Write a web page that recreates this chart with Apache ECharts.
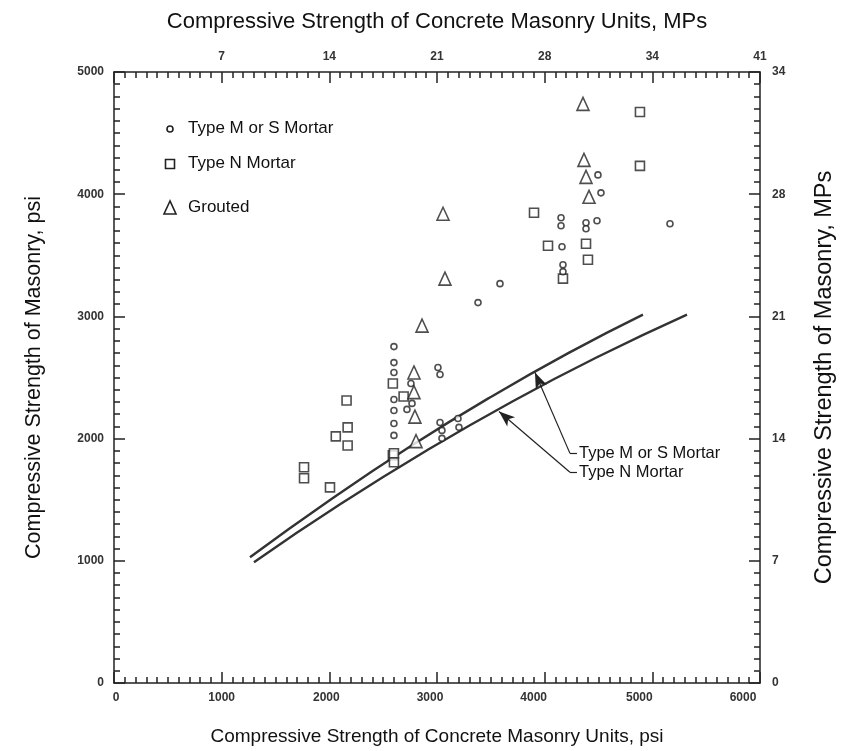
<!DOCTYPE html>
<html><head><meta charset="utf-8">
<script src="https://cdn.jsdelivr.net/npm/echarts@6/dist/echarts.min.js"></script>
<style>html,body{margin:0;padding:0;background:#fff}#c{width:845px;height:751px}</style>
</head><body><div id="c"></div>
<script>
// ---- data (psi) ----
var bottomLabels = ['0','1000','2000','3000','4000','5000','6000'];
var topLabels = ['','7','14','21','28','34','41'];
var leftLabels = ['0','1000','2000','3000','4000','5000'];
var rightLabels = ['0','7','14','21','28','34'];

var typeMS = [
  [2600,2753],[2600,2622],[2600,2541],[2600,2320],[2600,2230],[2600,2124],[2600,2026],
  [2758,2451],[2721,2239],[2768,2288],[3009,2582],[3028,2525],[3028,2132],[3046,2067],
  [3046,2002],[3195,2165],[3204,2092],[3381,3113],[3585,3268],
  [4495,4158],[4523,4011],[4152,3807],[4152,3742],[4384,3766],[4384,3717],[4486,3783],
  [5164,3758],[4161,3570],[4170,3423],[4170,3366]
];
var typeN = [
  [2160,2312],[2170,2092],[2060,2018],[2170,1944],[1765,1765],[1765,1675],[2006,1601],
  [2590,2451],[2690,2345],[2590,1863],[2600,1806],[2600,1880],
  [4885,4673],[4885,4232],[3901,3848],[4031,3578],[4384,3595],[4402,3464],[4170,3309]
];
var grouted = [
  [3056,3840],[3074,3309],[2861,2925],[2786,2541],[2786,2380],[2795,2180],[2805,1980],
  [4356,4739],[4365,4281],[4384,4142],[4412,3979]
];
var curveMS = [[1263,1029],[2000,1494],[2750,1935],[3500,2341],[4250,2714],[4913,3015]];
var curveN = [[1300,989],[2100,1462],[2900,1900],[3700,2304],[4500,2672],[5322,3015]];
var annMS = {tip:[3910,2541], elbow:[4235,1879], end:[4300,1879], text:'Type M or S Mortar'};
var annN = {tip:[3576,2222], elbow:[4235,1724], end:[4300,1724], text:'Type N Mortar'};
// horizontal label nudges (px) of bottom tick labels as printed in the source figure
var bottomShift = [2,0,-3,-7,-11,-13,-17];

var ink = '#222';
var FONT = 'Liberation Sans, Arial, sans-serif';
function tickAxisCommon(){
  return {
    axisLine:{show:true,onZero:false,lineStyle:{color:ink,width:1.5}},
    axisTick:{show:true,inside:true,length:11,lineStyle:{color:ink,width:1.5}},
    minorTick:{show:true,splitNumber:10,length:6,lineStyle:{color:ink,width:1.5}},
    splitLine:{show:false}, minorSplitLine:{show:false}
  };
}
function mk(base,extra){for(var k in extra) base[k]=extra[k]; return base;}

var markerStyle = {color:'#fff',borderColor:ink,borderWidth:1.6};

function annotation(a){
  return [
    [{coord:a.elbow,symbol:'none'},{coord:a.tip,symbol:'arrow',symbolSize:[9,16]}],
    [{coord:a.elbow,symbol:'none'},{coord:a.end,symbol:'none',label:{show:true,position:'end',distance:2,formatter:a.text,color:'#111',fontSize:16.5,fontFamily:FONT}}]
  ];
}

var labelBase = {fontSize:12,fontWeight:'bold',color:'#333',fontFamily:FONT};
var bottomRich = {};
bottomShift.forEach(function(s,i){
  bottomRich['b'+i] = mk(mk({},labelBase),{padding: s<0 ? [0,-2*s,0,0] : [0,0,0,2*s]});
});

var option = {
  animation:false,
  backgroundColor:'#fff',
  grid:{left:114,right:85,top:72,bottom:68,containLabel:false},
  xAxis:[
    mk(tickAxisCommon(),{type:'value',position:'bottom',min:0,max:6000,interval:1000,
      axisLabel:mk(mk({},labelBase),{margin:9,rich:bottomRich,formatter:function(v){var i=Math.round(v/1000);return '{b'+i+'|'+bottomLabels[i]+'}';}}),
      name:'Compressive Strength of Concrete Masonry Units, psi',nameLocation:'middle',nameGap:44,
      nameTextStyle:{fontSize:19,color:'#111',fontFamily:FONT}}),
    mk(tickAxisCommon(),{type:'value',position:'top',min:0,max:6000,interval:1000,
      axisLabel:mk(mk({},labelBase),{margin:9,formatter:function(v){return topLabels[Math.round(v/1000)];}}),
      name:'Compressive Strength of Concrete Masonry Units, MPs',nameLocation:'middle',nameGap:39,
      nameTextStyle:{fontSize:22,color:'#111',fontFamily:FONT}})
  ],
  yAxis:[
    mk(tickAxisCommon(),{type:'value',position:'left',min:0,max:5000,interval:1000,
      axisLabel:mk(mk({},labelBase),{margin:10,formatter:function(v){return leftLabels[Math.round(v/1000)];}}),
      name:'Compressive Strength of Masonry, psi',nameLocation:'middle',nameGap:69,
      nameTextStyle:{fontSize:21.5,color:'#111',fontFamily:FONT}}),
    mk(tickAxisCommon(),{type:'value',position:'right',min:0,max:5000,interval:1000,
      axisLabel:mk(mk({},labelBase),{margin:12,formatter:function(v){return rightLabels[Math.round(v/1000)];}}),
      name:'Compressive Strength of Masonry, MPs',nameLocation:'middle',nameGap:53,
      nameTextStyle:{fontSize:23.5,color:'#111',fontFamily:FONT}})
  ],
  series:[
    {type:'line',name:'Type M or S curve',data:curveMS,smooth:true,showSymbol:false,symbol:'none',
      lineStyle:{color:'#333',width:2.4},z:3,
      markLine:{silent:true,lineStyle:{color:ink,width:1.2,type:'solid'},label:{show:false},data:annotation(annMS)}},
    {type:'line',name:'Type N curve',data:curveN,smooth:true,showSymbol:false,symbol:'none',
      lineStyle:{color:'#333',width:2.4},z:3,
      markLine:{silent:true,lineStyle:{color:ink,width:1.2,type:'solid'},label:{show:false},data:annotation(annN)}},
    {type:'scatter',name:'Type M or S Mortar',data:typeMS,symbol:'circle',symbolSize:6,itemStyle:markerStyle,z:5},
    {type:'scatter',name:'Type N Mortar',data:typeN,symbol:'rect',symbolSize:9,itemStyle:markerStyle,z:4},
    {type:'scatter',name:'Grouted',data:grouted,symbol:'triangle',symbolSize:[12,13],itemStyle:markerStyle,z:4}
  ],
  graphic:[
    {type:'circle',shape:{cx:170,cy:129,r:3},style:{fill:'#fff',stroke:ink,lineWidth:1.6}},
    {type:'text',left:188,top:120,style:{text:'Type M or S Mortar',font:'17px '+FONT,fill:'#111'}},
    {type:'rect',shape:{x:165.5,y:159.5,width:9,height:9},style:{fill:'#fff',stroke:ink,lineWidth:1.6}},
    {type:'text',left:188,top:155,style:{text:'Type N Mortar',font:'17px '+FONT,fill:'#111'}},
    {type:'polygon',shape:{points:[[170,201],[164,214],[176,214]]},style:{fill:'#fff',stroke:ink,lineWidth:1.6}},
    {type:'text',left:188,top:199,style:{text:'Grouted',font:'17px '+FONT,fill:'#111'}}
  ]
};
var chart = echarts.init(document.getElementById('c'),null,{renderer:'canvas'});
chart.setOption(option);
</script></body></html>
